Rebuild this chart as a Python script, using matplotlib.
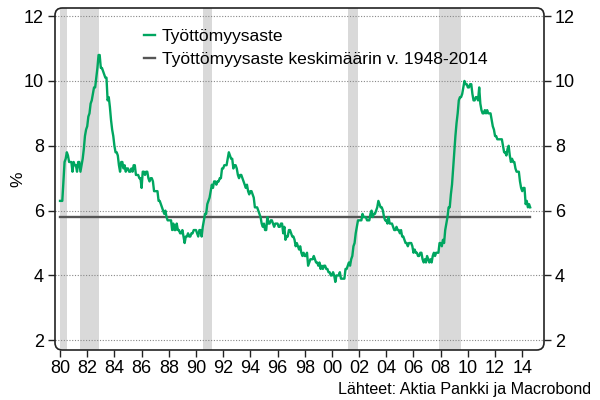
import numpy as np
import matplotlib
matplotlib.use("Agg")
from matplotlib import pyplot as plt
from matplotlib.patches import FancyBboxPatch

plt.rcParams['font.family'] = ['Liberation Sans', 'DejaVu Sans']

# monthly unemployment rate, Jan 1980 ->
rate = [
    6.3, 6.3, 6.3, 6.9, 7.5, 7.6, 7.8, 7.7, 7.5, 7.5, 7.5, 7.2,
    7.5, 7.4, 7.4, 7.2, 7.5, 7.5, 7.2, 7.4, 7.6, 7.9, 8.3, 8.5,
    8.6, 8.9, 9.0, 9.3, 9.4, 9.6, 9.8, 9.8, 10.1, 10.4, 10.8, 10.8,
    10.4, 10.4, 10.3, 10.2, 10.1, 10.1, 9.4, 9.5, 9.2, 8.8, 8.5, 8.3,
    8.0, 7.8, 7.8, 7.7, 7.4, 7.2, 7.5, 7.5, 7.3, 7.4, 7.2, 7.3,
    7.3, 7.2, 7.2, 7.3, 7.2, 7.4, 7.4, 7.1, 7.1, 7.1, 7.0, 7.0,
    6.7, 7.2, 7.2, 7.1, 7.2, 7.2, 7.0, 6.9, 7.0, 7.0, 6.9, 6.6,
    6.6, 6.6, 6.6, 6.3, 6.3, 6.2, 6.1, 6.0, 5.9, 6.0, 5.8, 5.7,
    5.7, 5.7, 5.7, 5.4, 5.6, 5.4, 5.4, 5.6, 5.4, 5.4, 5.3, 5.3,
    5.4, 5.2, 5.0, 5.2, 5.2, 5.3, 5.2, 5.2, 5.3, 5.3, 5.4, 5.4,
    5.4, 5.3, 5.2, 5.4, 5.4, 5.2, 5.5, 5.7, 5.9, 5.9, 6.2, 6.3,
    6.4, 6.6, 6.8, 6.7, 6.9, 6.9, 6.8, 6.9, 6.9, 7.0, 7.0, 7.3,
    7.3, 7.4, 7.4, 7.4, 7.6, 7.8, 7.7, 7.6, 7.6, 7.3, 7.4, 7.4,
    7.3, 7.1, 7.0, 7.1, 7.1, 7.0, 6.9, 6.8, 6.7, 6.8, 6.6, 6.5,
    6.6, 6.6, 6.5, 6.4, 6.1, 6.1, 6.1, 6.0, 5.9, 5.8, 5.6, 5.5,
    5.6, 5.4, 5.4, 5.8, 5.6, 5.6, 5.7, 5.7, 5.6, 5.5, 5.6, 5.6,
    5.6, 5.5, 5.5, 5.6, 5.6, 5.3, 5.5, 5.1, 5.2, 5.2, 5.4, 5.4,
    5.3, 5.2, 5.2, 5.1, 4.9, 5.0, 4.9, 4.8, 4.9, 4.7, 4.6, 4.7,
    4.6, 4.6, 4.7, 4.3, 4.4, 4.5, 4.5, 4.5, 4.6, 4.5, 4.4, 4.4,
    4.3, 4.4, 4.2, 4.3, 4.2, 4.3, 4.3, 4.2, 4.2, 4.1, 4.1, 4.0,
    4.0, 4.1, 4.0, 3.8, 4.0, 4.0, 4.0, 4.1, 3.9, 3.9, 3.9, 3.9,
    4.2, 4.2, 4.3, 4.4, 4.3, 4.5, 4.6, 4.9, 5.0, 5.3, 5.5, 5.7,
    5.7, 5.7, 5.7, 5.9, 5.8, 5.8, 5.8, 5.7, 5.7, 5.7, 5.9, 6.0,
    5.8, 5.9, 5.9, 6.0, 6.1, 6.3, 6.2, 6.1, 6.1, 6.0, 5.8, 5.7,
    5.7, 5.6, 5.8, 5.6, 5.6, 5.6, 5.5, 5.4, 5.4, 5.5, 5.4, 5.4,
    5.3, 5.4, 5.2, 5.2, 5.1, 5.0, 5.0, 4.9, 5.0, 5.0, 5.0, 4.9,
    4.7, 4.8, 4.7, 4.7, 4.6, 4.6, 4.7, 4.7, 4.5, 4.4, 4.5, 4.4,
    4.6, 4.5, 4.4, 4.5, 4.4, 4.6, 4.7, 4.6, 4.7, 4.7, 4.7, 5.0,
    5.0, 4.9, 5.1, 5.0, 5.4, 5.6, 5.8, 6.1, 6.1, 6.5, 6.8, 7.3,
    7.8, 8.3, 8.7, 9.0, 9.4, 9.5, 9.5, 9.6, 9.8, 10.0, 9.9, 9.9,
    9.8, 9.8, 9.9, 9.9, 9.6, 9.4, 9.4, 9.5, 9.5, 9.4, 9.8, 9.3,
    9.1, 9.0, 9.0, 9.1, 9.0, 9.1, 9.0, 9.0, 9.0, 8.8, 8.6, 8.5,
    8.3, 8.3, 8.2, 8.2, 8.2, 8.2, 8.2, 8.0, 7.8, 7.8, 7.7, 7.9,
    8.0, 7.7, 7.5, 7.6, 7.5, 7.5, 7.3, 7.2, 7.2, 7.2, 6.9, 6.7,
    6.6, 6.7, 6.7, 6.2, 6.3, 6.1, 6.2, 6.1,
]
avg_1948_2014 = 5.8

# recessions (start, end) as decimal years
recessions = [(1980.0, 1980.5), (1981.5, 1982.9), (1990.5, 1991.2),
              (2001.2, 2001.9), (2007.9, 2009.5)]

tick_years = list(range(1980, 2015, 2))
tick_labels = ["%02d" % (y % 100) for y in tick_years]
y_ticks = [2, 4, 6, 8, 10, 12]

green = "#00a660"
t = 1980 + np.arange(len(rate)) / 12.0

fig = plt.figure(figsize=(6, 4), dpi=100)
ax = fig.add_axes([55 / 600, 50 / 400, 489 / 600, 342 / 400])

for a, b in recessions:
    ax.axvspan(a, b, color="#d9d9d9", lw=0, zorder=0)

for y in y_ticks:
    ax.axhline(y, color="#888888", lw=0.8, ls=(0, (1, 1.5)), zorder=1)

ax.plot(t, rate, color=green, lw=1.7, zorder=3, label="Työttömyysaste")
ax.plot([t[0], t[-1]], [avg_1948_2014] * 2, color="#555555", lw=1.7, zorder=2,
        label="Työttömyysaste keskimäärin v. 1948-2014")

ax.set_xlim(1979.63, 2015.6)
ax.set_ylim(1.7, 12.25)
ax.set_xticks(tick_years)
ax.set_xticklabels(tick_labels)
ax.set_yticks(y_ticks)
ax.tick_params(axis="both", labelsize=13, direction="out", length=5, width=1,
               color="#222222", pad=3)
ax.tick_params(axis="y", right=True, labelright=True)
ax.tick_params(axis="x", pad=2)

for s in ax.spines.values():
    s.set_visible(False)
frame = FancyBboxPatch((0, 0), 1, 1, boxstyle="round,pad=0,rounding_size=0.015",
                       transform=ax.transAxes, fill=False, ec="#222222", lw=1.2,
                       zorder=5, clip_on=False, mutation_aspect=489 / 342)
ax.add_patch(frame)

ax.set_ylabel("%", fontsize=12.5)
ax.yaxis.set_label_coords(-0.061, 0.5)

leg = ax.legend(loc="upper left", bbox_to_anchor=(0.15, 0.985), frameon=False,
                fontsize=12.6, handlelength=0.6, handletextpad=0.4,
                labelspacing=0.45)

fig.text(0.985, 0.008, "Lähteet: Aktia Pankki ja Macrobond", ha="right",
         va="bottom", fontsize=11.6)

plt.savefig("out.png", dpi=100)
